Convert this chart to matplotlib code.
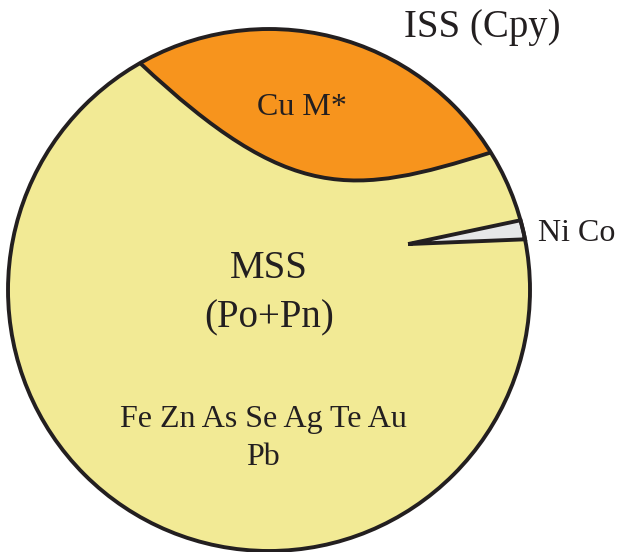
import numpy as np
import matplotlib
matplotlib.use("Agg")
import matplotlib.pyplot as plt
from matplotlib.path import Path
from matplotlib.patches import PathPatch, Circle

# ---- data (unit-circle diagram) ----
region_names = ["MSS", "ISS", "NiCo"]
region_colors = ["#F2EA95", "#F7941D", "#E6E7E8"]
iss_arc_deg = [119.6, 31.8]                  # where the ISS boundary meets the circle
iss_ctrl = [(0.080, 0.330), (0.320, 0.360)]  # Bezier control points of the ISS boundary
nico_arc_deg = [11.2, 15.5]
nico_apex = (0.533, 0.176)

labels = ["ISS (Cpy)", "Cu M*", "Ni Co", "MSS", "(Po+Pn)",
          "Fe Zn As Se Ag Te Au", "Pb"]
label_x = [0.816, 0.126, 1.031, 0.0, 0.0, -0.023, -0.023]
label_y = [0.969, 0.670, 0.188, 0.046, -0.142, -0.525, -0.670]
label_size = [28, 23, 23, 28, 28, 23, 23]
label_ha = ["center", "center", "left", "center", "center", "center", "center"]

edge = "#231F20"
lw = 2.8

fig = plt.figure(figsize=(6.19, 5.52), dpi=100)
ax = fig.add_axes([0, 0, 1, 1])
ax.set_xlim(-1.0307, 1.341)
ax.set_ylim(-1.0038, 1.1111)
ax.set_aspect("equal")
ax.axis("off")

# MSS (base circle)
ax.add_patch(Circle((0, 0), 1.0, facecolor=region_colors[0], edgecolor="none", zorder=1))

# ISS region
a = np.radians(np.linspace(iss_arc_deg[0], iss_arc_deg[1], 200))
arc = np.column_stack([np.cos(a), np.sin(a)])
p0 = arc[0]
p3 = arc[-1]
verts = list(map(tuple, arc)) + [iss_ctrl[1], iss_ctrl[0], tuple(p0)]
codes = [Path.MOVETO] + [Path.LINETO] * (len(arc) - 1) + [Path.CURVE4] * 3
ax.add_patch(PathPatch(Path(verts, codes), facecolor=region_colors[1], edgecolor="none", zorder=2))
# boundary curve
bverts = [tuple(p3), iss_ctrl[1], iss_ctrl[0], tuple(p0)]
bcodes = [Path.MOVETO, Path.CURVE4, Path.CURVE4, Path.CURVE4]
ax.add_patch(PathPatch(Path(bverts, bcodes), facecolor="none", edgecolor=edge, lw=lw, zorder=3))

# Ni Co wedge
b = np.radians(np.linspace(nico_arc_deg[0], nico_arc_deg[1], 30))
wv = [nico_apex] + list(map(tuple, np.column_stack([np.cos(b), np.sin(b)]))) + [nico_apex]
ax.add_patch(PathPatch(Path(wv, closed=False), facecolor=region_colors[2], edgecolor=edge,
                       lw=lw, joinstyle="miter", zorder=3))

# outer circle outline
ax.add_patch(Circle((0, 0), 1.0, facecolor="none", edgecolor=edge, lw=lw, zorder=4))

for t, x, y, s, ha in zip(labels, label_x, label_y, label_size, label_ha):
    ax.text(x, y, t, fontsize=s, ha=ha, va="baseline", color=edge,
            family="Liberation Serif", zorder=5)

fig.savefig("out.png", dpi=100)
